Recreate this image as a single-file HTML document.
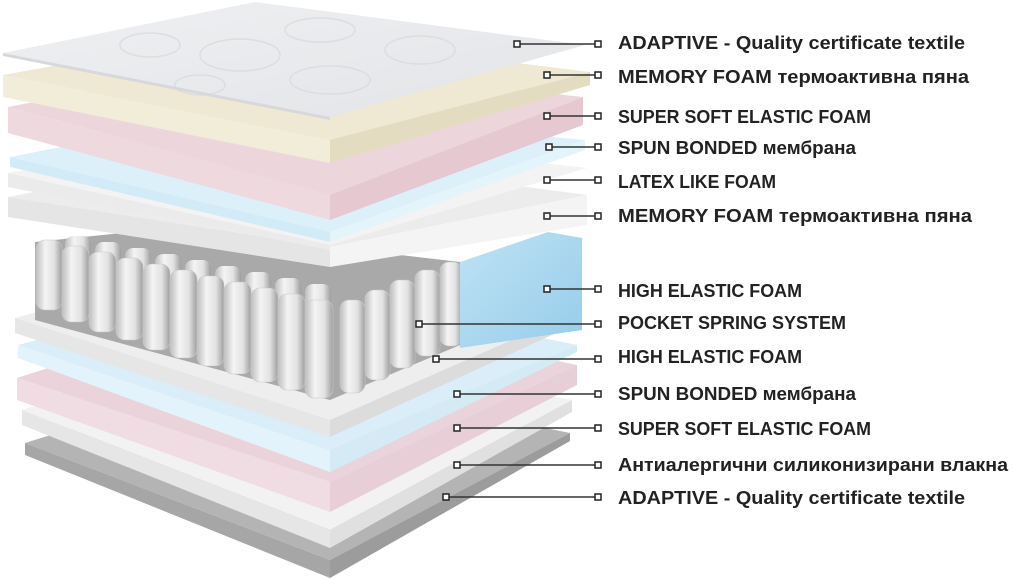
<!DOCTYPE html>
<html><head><meta charset="utf-8"><style>html,body{margin:0;padding:0;background:#fff}svg{display:block}</style></head>
<body>
<svg width="1012" height="579" viewBox="0 0 1012 579" xmlns="http://www.w3.org/2000/svg">
<defs>
<linearGradient id="cyl" x1="0" x2="1" y1="0" y2="0">
<stop offset="0" stop-color="#bdbdbd"/><stop offset="0.35" stop-color="#f4f4f4"/><stop offset="0.7" stop-color="#e2e2e2"/><stop offset="1" stop-color="#9e9e9e"/>
</linearGradient>
<linearGradient id="blk" x1="0" x2="1" y1="0" y2="1">
<stop offset="0" stop-color="#bfe2f4"/><stop offset="1" stop-color="#96cdea"/>
</linearGradient>
<linearGradient id="quilt" x1="0" x2="1" y1="0" y2="1">
<stop offset="0" stop-color="#eef0f2"/><stop offset="1" stop-color="#e2e4e7"/>
</linearGradient>
</defs>

<polygon points="25,443 260,370 570,433 330,560" fill="#b4b4b4"/>
<polygon points="25,443 330,560 330,578 25,455" fill="#a6a6a6"/>
<polygon points="330,560 570,433 570,441 330,578" fill="#9c9c9c"/>
<polygon points="22,410 260,340 572,400 330,530" fill="#f2f2f2"/>
<polygon points="22,410 330,530 330,548 22,425" fill="#e6e6e6"/>
<polygon points="330,530 572,400 572,412 330,548" fill="#e0e0e0"/>
<polygon points="17,378 260,300 577,365 330,482" fill="#ead3da"/>
<polygon points="17,378 330,482 330,512 17,400" fill="#f0dde3"/>
<polygon points="330,482 577,365 577,385 330,512" fill="#e8cfd7"/>
<polygon points="18,345 260,280 577,345 330,450" fill="#d9eef8"/>
<polygon points="18,345 330,450 330,472 18,358" fill="#e3f3fb"/>
<polygon points="330,450 577,345 577,352 330,472" fill="#d4ebf6"/>
<polygon points="15,318 260,250 580,310 330,420" fill="#eeeeee"/>
<polygon points="15,318 330,420 330,437 15,333" fill="#e6e6e6"/>
<polygon points="330,420 580,310 580,322 330,437" fill="#dcdcdc"/>

<polygon points="35,242 170,228 460,262 460,345 330,400 35,320" fill="#a9a9a9"/>
<g fill="url(#cyl)">
<rect x="65" y="236" width="26" height="60" rx="8"/>
<rect x="95" y="242" width="26" height="60" rx="8"/>
<rect x="125" y="248" width="26" height="62" rx="8"/>
<rect x="155" y="254" width="26" height="62" rx="8"/>
<rect x="185" y="260" width="26" height="62" rx="8"/>
<rect x="215" y="266" width="26" height="62" rx="8"/>
<rect x="245" y="272" width="26" height="62" rx="8"/>
<rect x="275" y="278" width="26" height="62" rx="8"/>
<rect x="305" y="284" width="26" height="62" rx="8"/>
</g>
<g fill="url(#cyl)" stroke="#c8c8c8" stroke-width="0.6">
<rect x="36" y="240" width="26" height="70" rx="9"/>
<rect x="62" y="246" width="27" height="76" rx="9"/>
<rect x="89" y="252" width="27" height="80" rx="9"/>
<rect x="116" y="258" width="27" height="82" rx="9"/>
<rect x="143" y="264" width="27" height="86" rx="9"/>
<rect x="170" y="270" width="27" height="88" rx="9"/>
<rect x="197" y="276" width="27" height="90" rx="9"/>
<rect x="224" y="282" width="27" height="92" rx="9"/>
<rect x="251" y="288" width="27" height="94" rx="9"/>
<rect x="278" y="294" width="27" height="96" rx="9"/>
<rect x="305" y="300" width="28" height="98" rx="9"/>
<rect x="340" y="300" width="25" height="93" rx="9"/>
<rect x="365" y="290" width="25" height="90" rx="9"/>
<rect x="390" y="280" width="25" height="88" rx="9"/>
<rect x="415" y="270" width="25" height="86" rx="9"/>
<rect x="440" y="262" width="22" height="84" rx="9"/>
</g>
<polygon points="460,262 548,232 582,238 582,330 460,348" fill="url(#blk)"/>

<polygon points="8,197 250,150 587,195 330,247" fill="#ececec"/>
<polygon points="8,197 330,247 330,267 8,217" fill="#e5e5e5"/>
<polygon points="330,247 587,195 587,225 330,267" fill="#f4f4f4"/>
<polygon points="8,173 250,130 587,168 330,245" fill="#f3f3f3"/>
<polygon points="8,173 330,245 330,250 8,187" fill="#ebebeb"/>
<polygon points="10,157 250,110 585,140 330,232" fill="#dcf0fa"/>
<polygon points="10,157 330,232 330,242 10,167" fill="#d2ebf7"/>
<polygon points="330,232 585,140 585,150 330,242" fill="#e4f4fb"/>
<polygon points="8,107 250,60 583,97 330,195" fill="#ecd6db"/>
<polygon points="8,107 330,195 330,220 8,133" fill="#eed9de"/>
<polygon points="330,195 583,97 583,125 330,220" fill="#e6c8d0"/>
<polygon points="3,75 250,30 590,72 330,140" fill="#efe9d4"/>
<polygon points="3,75 330,140 330,163 3,97" fill="#f2edd9"/>
<polygon points="330,140 590,72 590,85 330,163" fill="#e4dcc0"/>
<polygon points="3,53 255,2 585,45 330,117" fill="url(#quilt)"/>
<polygon points="3,53 330,117 330,120 3,56" fill="#d6d8dc"/>
<g fill="none" stroke="#d6d9dd" stroke-width="1.5" opacity="0.7">
<ellipse cx="150" cy="45" rx="30" ry="12"/><ellipse cx="240" cy="55" rx="40" ry="16"/>
<ellipse cx="320" cy="30" rx="35" ry="12"/><ellipse cx="330" cy="80" rx="40" ry="14"/>
<ellipse cx="420" cy="50" rx="35" ry="14"/><ellipse cx="200" cy="85" rx="25" ry="10"/>
</g>

<g stroke="#333" stroke-width="1.5">
<line x1="517" y1="44" x2="598" y2="44"/>
<line x1="547" y1="75" x2="598" y2="75"/>
<line x1="547" y1="116" x2="598" y2="116"/>
<line x1="549" y1="147" x2="598" y2="147"/>
<line x1="547" y1="180" x2="598" y2="180"/>
<line x1="547" y1="216" x2="598" y2="216"/>
<line x1="547" y1="289" x2="598" y2="289"/>
<line x1="419" y1="324" x2="598" y2="324"/>
<line x1="436" y1="359" x2="598" y2="359"/>
<line x1="457" y1="394" x2="598" y2="394"/>
<line x1="457" y1="428" x2="598" y2="428"/>
<line x1="457" y1="465" x2="598" y2="465"/>
<line x1="446" y1="497" x2="598" y2="497"/>
</g>
<g fill="#fff" stroke="#222" stroke-width="1.5">
<rect x="514" y="41" width="6" height="6"/><rect x="595" y="41" width="6" height="6"/>
<rect x="544" y="72" width="6" height="6"/><rect x="595" y="72" width="6" height="6"/>
<rect x="544" y="113" width="6" height="6"/><rect x="595" y="113" width="6" height="6"/>
<rect x="546" y="144" width="6" height="6"/><rect x="595" y="144" width="6" height="6"/>
<rect x="544" y="177" width="6" height="6"/><rect x="595" y="177" width="6" height="6"/>
<rect x="544" y="213" width="6" height="6"/><rect x="595" y="213" width="6" height="6"/>
<rect x="544" y="286" width="6" height="6"/><rect x="595" y="286" width="6" height="6"/>
<rect x="416" y="321" width="6" height="6"/><rect x="595" y="321" width="6" height="6"/>
<rect x="433" y="356" width="6" height="6"/><rect x="595" y="356" width="6" height="6"/>
<rect x="454" y="391" width="6" height="6"/><rect x="595" y="391" width="6" height="6"/>
<rect x="454" y="425" width="6" height="6"/><rect x="595" y="425" width="6" height="6"/>
<rect x="454" y="462" width="6" height="6"/><rect x="595" y="462" width="6" height="6"/>
<rect x="443" y="494" width="6" height="6"/><rect x="595" y="494" width="6" height="6"/>
</g>

<g font-family="'Liberation Sans Narrow','Liberation Sans',sans-serif" font-weight="bold" font-size="18" fill="#222">
<text x="618" y="49" textLength="347" lengthAdjust="spacingAndGlyphs">ADAPTIVE - Quality certificate textile</text>
<text x="618" y="83" textLength="351" lengthAdjust="spacingAndGlyphs">MEMORY FOAM термоактивна пяна</text>
<text x="618" y="123" textLength="253" lengthAdjust="spacingAndGlyphs">SUPER SOFT ELASTIC FOAM</text>
<text x="618" y="154" textLength="238" lengthAdjust="spacingAndGlyphs">SPUN BONDED мембрана</text>
<text x="618" y="188" textLength="158" lengthAdjust="spacingAndGlyphs">LATEX LIKE FOAM</text>
<text x="618" y="222" textLength="354" lengthAdjust="spacingAndGlyphs">MEMORY FOAM термоактивна пяна</text>
<text x="618" y="297" textLength="184" lengthAdjust="spacingAndGlyphs">HIGH ELASTIC FOAM</text>
<text x="618" y="329" textLength="228" lengthAdjust="spacingAndGlyphs">POCKET SPRING SYSTEM</text>
<text x="618" y="363" textLength="184" lengthAdjust="spacingAndGlyphs">HIGH ELASTIC FOAM</text>
<text x="618" y="400" textLength="238" lengthAdjust="spacingAndGlyphs">SPUN BONDED мембрана</text>
<text x="618" y="435" textLength="253" lengthAdjust="spacingAndGlyphs">SUPER SOFT ELASTIC FOAM</text>
<text x="618" y="471" textLength="390" lengthAdjust="spacingAndGlyphs">Антиалергични силиконизирани влакна</text>
<text x="618" y="504" textLength="347" lengthAdjust="spacingAndGlyphs">ADAPTIVE - Quality certificate textile</text>
</g>
</svg>
</body></html>
